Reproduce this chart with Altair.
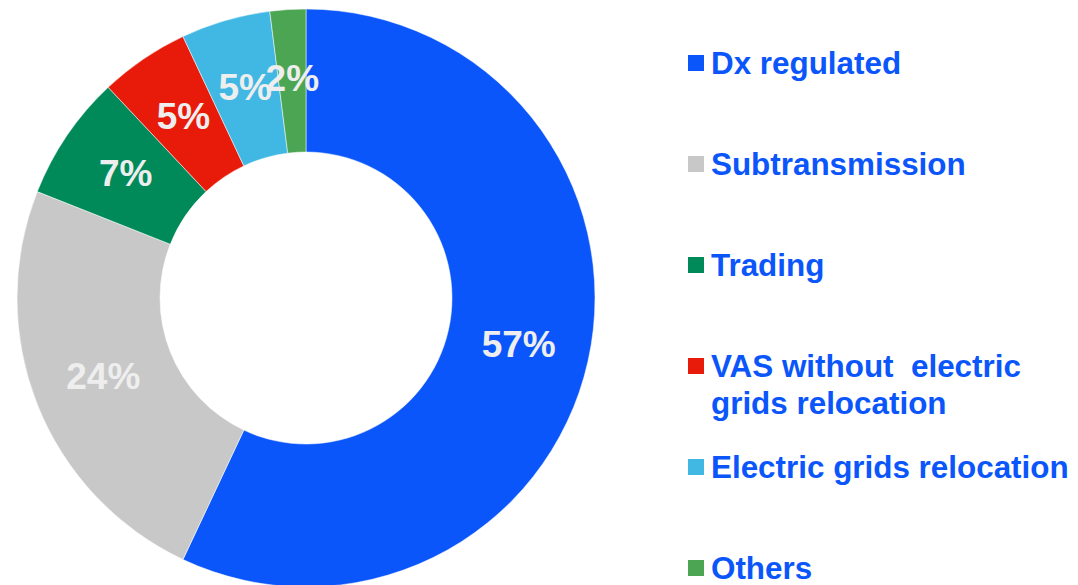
import altair as alt
import pandas as pd

categories = ["Dx regulated", "Subtransmission", "Trading",
              "VAS without  electric grids relocation",
              "Electric grids relocation", "Others"]
shares = [57, 24, 7, 5, 5, 2]
colors = ["#0A56FB", "#C8C8C8", "#008A5A", "#E81A0A", "#41B8E4", "#4CA552"]
legend_labels = ["Dx regulated", "Subtransmission", "Trading",
                 "VAS without \u00a0electric\ngrids relocation",
                 "Electric grids relocation", "Others"]

df = pd.DataFrame({
    "cat": categories,
    "share": shares,
    "idx": list(range(len(categories))),
    "label": [f"{s}%" for s in shares],
    "legend": legend_labels,
})

color_enc = alt.Color("cat:N", scale=alt.Scale(domain=categories, range=colors), legend=None)

base = alt.Chart(df).encode(
    theta=alt.Theta("share:Q", stack=True),
    order=alt.Order("idx:Q"),
)
arcs = base.mark_arc(outerRadius=289, innerRadius=146, stroke="white", strokeWidth=0.5).encode(color=color_enc)
labels = base.mark_text(radius=218, font="Liberation Sans", fontWeight="bold",
                        fontSize=37, color="#EEEEEE", baseline="middle").encode(text="label:N")
donut = alt.layer(arcs, labels).properties(width=596, height=576)

ly = alt.Y("idx:Q", scale=alt.Scale(domain=[-0.525, 5.178], reverse=True, nice=False, zero=False), axis=None)
squares = alt.Chart(df).mark_square(size=256, opacity=1).encode(
    x=alt.value(16), y=ly, color=color_enc)
texts = alt.Chart(df).mark_text(
    align="left", baseline="alphabetic", dy=11, fontSize=31.4, fontWeight="bold",
    font="Liberation Sans", color="#0A56FB", lineBreak="\n", lineHeight=37
).encode(x=alt.value(31), y=ly, text="legend:N")
legend = alt.layer(squares, texts).properties(width=370, height=576)

chart = alt.hconcat(donut, legend, spacing=76).properties(padding=0).configure_view(stroke=None)
chart.save("out.html", embed_options={"renderer": "svg", "actions": False})
